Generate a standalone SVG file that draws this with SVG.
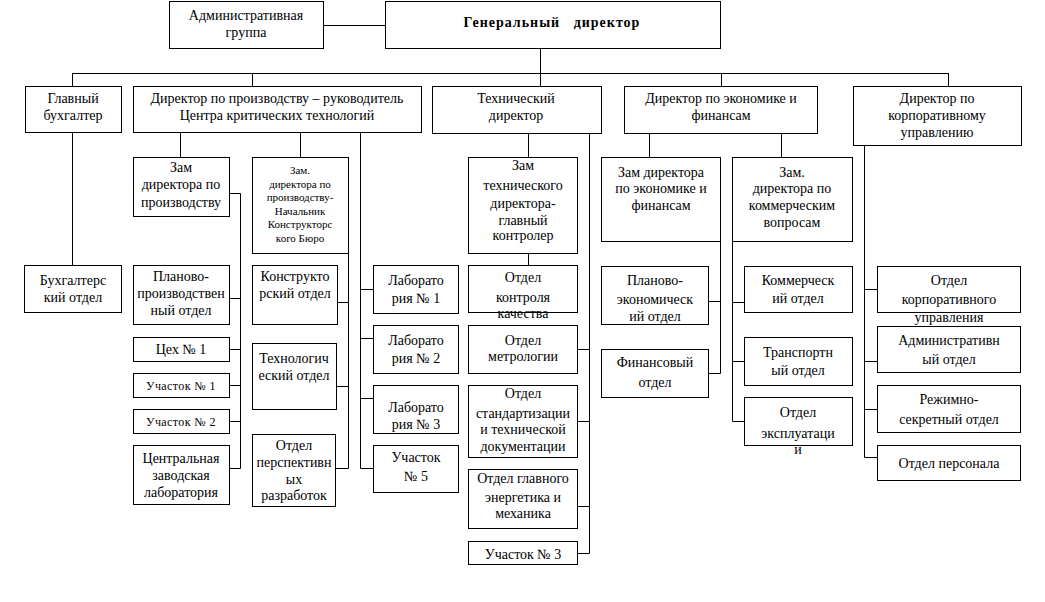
<svg xmlns="http://www.w3.org/2000/svg" width="1045" height="602" viewBox="0 0 1045 602">
<style>
rect{fill:#fff;stroke:#000;stroke-width:1}
text{font-family:"Liberation Serif","Times New Roman","DejaVu Serif",serif;font-size:14px;text-anchor:middle;fill:#000}
.s{font-size:11px}
.u{font-size:12px;letter-spacing:0.4px}
.g{font-weight:bold;white-space:pre;letter-spacing:1px}
#connectors path{fill:none;stroke:#000;stroke-width:1}
</style>
<rect x="0" y="0" width="1045" height="602" style="stroke:none"/>
<g id="connectors">
<path d="M323.5 25.5H385.5"/>
<path d="M540.5 48.5V86"/>
<path d="M72.5 73.5H948.5M72.5 73V86M252.5 73V86M721.5 73V86M948.5 73V86"/>
<path d="M72.5 132V265"/>
<path d="M180.5 132V157M300.5 132V157M360.5 132V468.5"/>
<path d="M229 193.5H240.5V468.5M229 298.5H240.5M229 349.5H240.5M229 385.5H240.5M229 421.5H240.5M229 468.5H240.5"/>
<path d="M348.5 253V468.5M337 302.5H348.5M336 386.5H348.5M335 468.5H348.5"/>
<path d="M360.5 289.5H373M360.5 338.5H373M360.5 398.5H373M360.5 468.5H373"/>
<path d="M528.5 133V157M528.5 253V265M589.5 133V553.5M577 349.5H589.5M577 421.5H589.5M577 506.5H589.5M577 553.5H589.5"/>
<path d="M649.5 133V157M781.5 133V157M720.5 241V373.5M708 301.5H720.5M708 373.5H720.5"/>
<path d="M732.5 241V421.5M732.5 302.5H744M732.5 361.5H744M732.5 421.5H744"/>
<path d="M864.5 145V457.5M864.5 289.5H877M864.5 361.5H877M864.5 409.5H877M864.5 457.5H877"/>
</g>
<g id="adm"><rect x="169.5" y="1.5" width="154" height="47"/><text x="246" y="20">Административная</text><text x="246" y="37">группа</text></g>
<g id="gen"><rect x="385.5" y="1.5" width="335" height="47"/><text class="g" x="552" y="27">Генеральный   директор</text></g>
<g id="gb"><rect x="25.5" y="86.5" width="96" height="46"/><text x="73" y="103">Главный</text><text x="73" y="120">бухгалтер</text></g>
<g id="dp"><rect x="133.5" y="86.5" width="288" height="46"/><text x="277" y="103">Директор по производству – руководитель</text><text x="277" y="120">Центра критических технологий</text></g>
<g id="td"><rect x="432.5" y="86.5" width="169" height="47"/><text x="516" y="103">Технический</text><text x="516" y="120">директор</text></g>
<g id="de"><rect x="624.5" y="86.5" width="193" height="47"/><text x="721" y="103">Директор по экономике и</text><text x="721" y="120">финансам</text></g>
<g id="dk"><rect x="853.5" y="86.5" width="168" height="59"/><text x="937" y="103">Директор по</text><text x="937" y="120">корпоративному</text><text x="937" y="137">управлению</text></g>
<g id="buh"><rect x="24.5" y="265.5" width="97" height="47"/><text x="73" y="285">Бухгалтерс</text><text x="73" y="302">кий отдел</text></g>
<g id="zp"><rect x="133.5" y="157.5" width="96" height="59"/><text x="181" y="172">Зам</text><text x="181" y="189">директора по</text><text x="181" y="207">производству</text></g>
<g id="kb"><rect x="252.5" y="157.5" width="96" height="96"/><text class="s" x="300" y="174">Зам.</text><text class="s" x="300" y="188">директора по</text><text class="s" x="300" y="201">производству-</text><text class="s" x="300" y="215">Начальник</text><text class="s" x="300" y="228">Конструкторс</text><text class="s" x="300" y="242">кого Бюро</text></g>
<g id="ppo"><rect x="133.5" y="265.5" width="96" height="59"/><text x="181" y="281">Планово-</text><text x="181" y="298">производствен</text><text x="181" y="315">ный отдел</text></g>
<g id="cex1"><rect x="133.5" y="337.5" width="96" height="24"/><text x="181" y="354">Цех № 1</text></g>
<g id="uch1"><rect x="133.5" y="373.5" width="96" height="24"/><text class="u" x="181" y="390">Участок № 1</text></g>
<g id="uch2"><rect x="133.5" y="409.5" width="96" height="24"/><text class="u" x="181" y="426">Участок № 2</text></g>
<g id="czl"><rect x="133.5" y="445.5" width="96" height="59"/><text x="181" y="463">Центральная</text><text x="181" y="480">заводская</text><text x="181" y="497">лаборатория</text></g>
<g id="ko"><rect x="252.5" y="265.5" width="85" height="59"/><text x="295" y="281">Конструкто</text><text x="295" y="298">рский отдел</text></g>
<g id="to"><rect x="252.5" y="343.5" width="84" height="66"/><text x="294" y="363">Технологич</text><text x="294" y="380">еский отдел</text></g>
<g id="opr"><rect x="252.5" y="434.5" width="83" height="72"/><text x="294" y="450">Отдел</text><text x="294" y="467">перспективн</text><text x="294" y="484">ых</text><text x="294" y="500">разработок</text></g>
<g id="lab1"><rect x="373.5" y="265.5" width="85" height="48"/><text x="416" y="285">Лаборато</text><text x="416" y="303">рия № 1</text></g>
<g id="lab2"><rect x="373.5" y="325.5" width="85" height="48"/><text x="416" y="345">Лаборато</text><text x="416" y="363">рия № 2</text></g>
<g id="lab3"><rect x="373.5" y="385.5" width="85" height="48"/><text x="416" y="412">Лаборато</text><text x="416" y="429">рия № 3</text></g>
<g id="uch5"><rect x="373.5" y="445.5" width="85" height="47"/><text x="416" y="462">Участок</text><text x="416" y="481">№ 5</text></g>
<g id="zt"><rect x="468.5" y="157.5" width="109" height="96"/><text x="523" y="170">Зам</text><text x="523" y="190">технического</text><text x="523" y="208">директора-</text><text x="523" y="225">главный</text><text x="523" y="240">контролер</text></g>
<g id="okk"><rect x="468.5" y="265.5" width="109" height="47"/><text x="523" y="282">Отдел</text><text x="523" y="302">контроля</text><text x="523" y="318">качества</text></g>
<g id="om"><rect x="468.5" y="325.5" width="109" height="48"/><text x="523" y="345">Отдел</text><text x="523" y="361">метрологии</text></g>
<g id="ost"><rect x="468.5" y="385.5" width="109" height="72"/><text x="523" y="398">Отдел</text><text x="523" y="418">стандартизации</text><text x="523" y="434">и технической</text><text x="523" y="451">документации</text></g>
<g id="oge"><rect x="468.5" y="469.5" width="109" height="59"/><text x="523" y="483">Отдел главного</text><text x="523" y="502">энергетика и</text><text x="523" y="518">механика</text></g>
<g id="uch3"><rect x="468.5" y="541.5" width="109" height="23"/><text x="523" y="559">Участок № 3</text></g>
<g id="ze"><rect x="601.5" y="157.5" width="119" height="84"/><text x="661" y="177">Зам директора</text><text x="661" y="193">по экономике и</text><text x="661" y="210">финансам</text></g>
<g id="pe"><rect x="601.5" y="266.5" width="107" height="58"/><text x="655" y="285">Планово-</text><text x="655" y="304">экономическ</text><text x="655" y="321">ий отдел</text></g>
<g id="fin"><rect x="601.5" y="349.5" width="107" height="48"/><text x="655" y="367">Финансовый</text><text x="655" y="387">отдел</text></g>
<g id="zk"><rect x="732.5" y="157.5" width="120" height="84"/><text x="792" y="177">Зам.</text><text x="792" y="193">директора по</text><text x="792" y="210">коммерческим</text><text x="792" y="227">вопросам</text></g>
<g id="kom"><rect x="744.5" y="266.5" width="108" height="46"/><text x="798" y="285">Коммерческ</text><text x="798" y="303">ий отдел</text></g>
<g id="tr"><rect x="744.5" y="337.5" width="108" height="48"/><text x="798" y="357">Транспортн</text><text x="798" y="375">ый отдел</text></g>
<g id="ex"><rect x="744.5" y="397.5" width="108" height="48"/><text x="798" y="417">Отдел</text><text x="798" y="438">эксплуатаци</text><text x="798" y="454">и</text></g>
<g id="okor"><rect x="877.5" y="266.5" width="143" height="46"/><text x="949" y="285">Отдел</text><text x="949" y="304">корпоративного</text><text x="949" y="322">управления</text></g>
<g id="adm2"><rect x="877.5" y="326.5" width="143" height="46"/><text x="949" y="345">Административн</text><text x="949" y="364">ый отдел</text></g>
<g id="rs"><rect x="877.5" y="385.5" width="143" height="47"/><text x="949" y="404">Режимно-</text><text x="949" y="424">секретный отдел</text></g>
<g id="pers"><rect x="877.5" y="445.5" width="143" height="35"/><text x="949" y="468">Отдел персонала</text></g>
</svg>
